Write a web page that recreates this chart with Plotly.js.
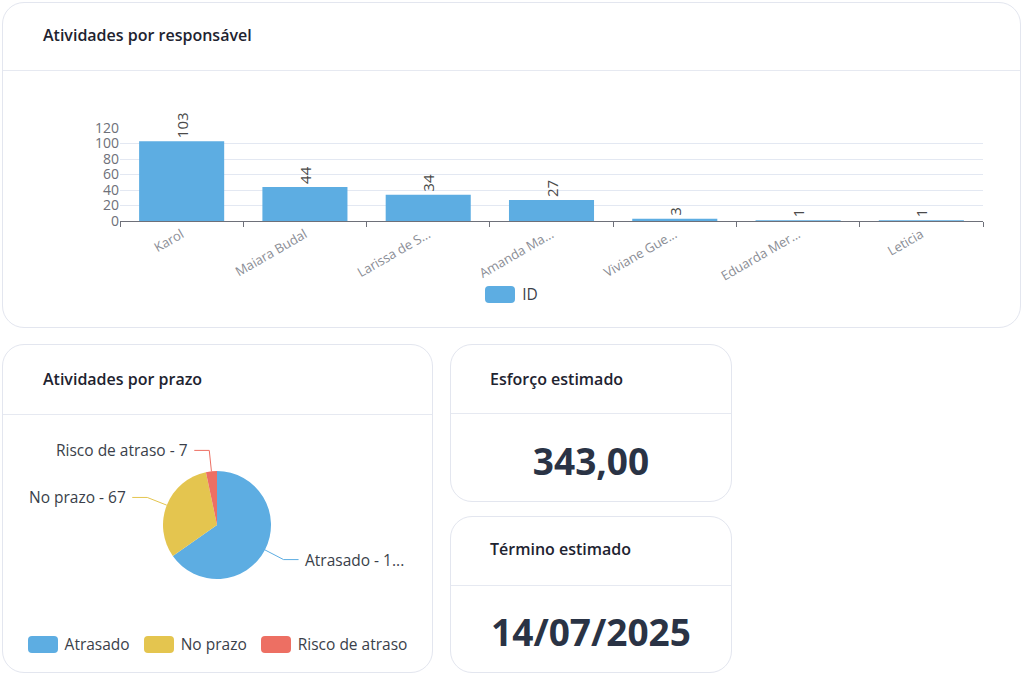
<!DOCTYPE html>
<html>
<head>
<meta charset="utf-8">
<script src="https://cdn.plot.ly/plotly-3.0.1.min.js"></script>
<style>
  html, body { margin:0; padding:0; background:#fff; width:1023px; height:675px; overflow:hidden;
    font-family:"Open Sans","Noto Sans",sans-serif; }
  .card { position:absolute; box-sizing:border-box; border:1px solid #e3e6ef; border-radius:22px; background:#fff; }
  .hdr { position:absolute; left:0; right:0; top:0; border-bottom:1px solid #e6e9f1; }
  .ttl { position:absolute; font-size:16px; font-weight:600; color:#1e2330; white-space:nowrap; }
  .big { position:absolute; left:0; right:0; text-align:center; font-size:37px; font-weight:700; color:#2a3345; }
  .plot { position:absolute; }
  .leg { position:absolute; display:flex; align-items:center; font-size:15.5px; color:#3a3f4a; }
  .leg .sw { width:30px; height:17px; border-radius:4px; margin-right:7px; }
  .leg .it { display:flex; align-items:center; margin-right:14px; }
  .leg .it:last-child { margin-right:0; }
</style>
</head>
<body>
<div class="card" style="left:2px;top:2px;width:1019px;height:326px;">
  <div class="hdr" style="height:67px;"></div>
  <div class="ttl" style="left:40px;top:21px;" id="t1"></div>
</div>
<div class="card" style="left:2px;top:344px;width:431px;height:329px;">
  <div class="hdr" style="height:69px;"></div>
  <div class="ttl" style="left:40px;top:23px;" id="t2"></div>
</div>
<div class="card" style="left:450px;top:344px;width:282px;height:158px;">
  <div class="hdr" style="height:68px;"></div>
  <div class="ttl" style="left:39px;top:23px;" id="t3"></div>
  <div class="big" style="top:90px;" id="v3"></div>
</div>
<div class="card" style="left:450px;top:516px;width:282px;height:157px;">
  <div class="hdr" style="height:68px;"></div>
  <div class="ttl" style="left:39px;top:21px;" id="t4"></div>
  <div class="big" style="top:89px;" id="v4"></div>
</div>

<div class="plot" id="bar" style="left:2px;top:71px;width:1019px;height:257px;"></div>
<div class="leg" id="barLeg" style="left:0;width:1023px;top:283px;justify-content:center;"></div>
<div class="plot" id="pie" style="left:2px;top:415px;width:431px;height:258px;"></div>
<div class="leg" id="pieLeg" style="left:2px;width:431px;top:633px;justify-content:center;"></div>

<script>
// ---- data ----
const cardTitles = ["Atividades por responsável", "Atividades por prazo", "Esforço estimado", "Término estimado"];
const esforcoValue = "343,00";
const terminoValue = "14/07/2025";

const responsaveis = ["Karol", "Maiara Budal", "Larissa de S...", "Amanda Ma...", "Viviane Gue...", "Eduarda Mer...", "Leticia"];
const atividades = [103, 44, 34, 27, 3, 1, 1];
const barSeriesName = "ID";

const prazoLabels = ["Atrasado", "No prazo", "Risco de atraso"];
const prazoValues = [139, 67, 7];

const colors = ["#5dade2", "#e4c54f", "#ed6f63"];

// ---- texts ----
document.getElementById('t1').textContent = cardTitles[0];
document.getElementById('t2').textContent = cardTitles[1];
document.getElementById('t3').textContent = cardTitles[2];
document.getElementById('t4').textContent = cardTitles[3];
document.getElementById('v3').textContent = esforcoValue;
document.getElementById('v4').textContent = terminoValue;

function legend(el, names, cols) {
  names.forEach((n, i) => {
    const it = document.createElement('div'); it.className = 'it';
    const sw = document.createElement('div'); sw.className = 'sw'; sw.style.background = cols[i];
    const tx = document.createElement('span'); tx.textContent = n;
    it.appendChild(sw); it.appendChild(tx); el.appendChild(it);
  });
}
legend(document.getElementById('barLeg'), [barSeriesName], [colors[0]]);
legend(document.getElementById('pieLeg'), prazoLabels, colors);

// ---- bar chart ----
const axisGray = "#6e7079";
Plotly.newPlot('bar', [{
  type: 'bar', x: responsaveis, y: atividades, name: barSeriesName,
  marker: { color: colors[0] }, width: 0.69,
  text: atividades.map(String), textposition: 'outside', textangle: -90,
  textfont: { size: 15, color: '#4a4a4a', family: 'Open Sans' }, cliponaxis: false,
  hoverinfo: 'x+y'
}], {
  width: 1019, height: 257,
  margin: { l: 118, r: 38, t: 57, b: 107 },
  paper_bgcolor: 'rgba(0,0,0,0)', plot_bgcolor: 'rgba(0,0,0,0)',
  showlegend: false,
  font: { family: 'Open Sans', color: axisGray },
  xaxis: {
    type: 'category', tickangle: -30, tickfont: { size: 13, color: '#8a8d95' },
    showline: true, linecolor: axisGray, linewidth: 1,
    ticks: 'outside', tickson: 'boundaries', ticklen: 5, tickcolor: axisGray,
    showgrid: false, fixedrange: true
  },
  yaxis: {
    range: [0, 120], dtick: 20, tickfont: { size: 14, color: axisGray },
    gridcolor: '#e3e8f2', zeroline: false, showline: false, ticks: '', fixedrange: true
  }
}, { displayModeBar: false, staticPlot: true });

// ---- pie chart ----
const W = 431, H = 258, cx = 215, cy = 110, R = 54;
const labelFont = 15.5;
const total = prazoValues.reduce((a, b) => a + b, 0);
const canvas = document.createElement('canvas');
const ctx = canvas.getContext('2d');
ctx.font = labelFont + 'px "Open Sans"';
function fit(txt, maxW) {
  if (ctx.measureText(txt).width <= maxW) return txt;
  let s = txt;
  while (s.length > 1 && ctx.measureText(s + '...').width > maxW) s = s.slice(0, -1);
  return s + '...';
}
const shapes = [], annotations = [];
const px = x => x / W, py = y => 1 - y / H;
let acc = 0;
prazoValues.forEach((v, i) => {
  const mid = (acc + v / 2) / total * 2 * Math.PI; acc += v;
  const dx = Math.sin(mid), dy = -Math.cos(mid);
  const p0 = [cx + dx * R, cy + dy * R];
  const p1 = [cx + dx * (R + 21), cy + dy * (R + 21)];
  const right = dx >= 0;
  const p2 = [p1[0] + (right ? 15 : -15), p1[1]];
  shapes.push({
    type: 'path', xref: 'paper', yref: 'paper',
    path: `M ${px(p0[0])} ${py(p0[1])} L ${px(p1[0])} ${py(p1[1])} L ${px(p2[0])} ${py(p2[1])}`,
    line: { color: colors[i], width: 1 }
  });
  const full = prazoLabels[i] + ' - ' + v;
  const tx = p2[0] + (right ? 4 : -4);
  const maxW = right ? (W - 26 - tx) : tx - 10;
  annotations.push({
    xref: 'paper', yref: 'paper', x: px(tx), y: py(p2[1]),
    xanchor: right ? 'left' : 'right', yanchor: 'middle', showarrow: false,
    text: fit(full, maxW), font: { size: labelFont, color: '#3a3f4a', family: 'Open Sans' }
  });
});

Plotly.newPlot('pie', [{
  type: 'pie', labels: prazoLabels, values: prazoValues,
  marker: { colors: colors, line: { width: 0 } },
  sort: false, direction: 'clockwise', rotation: 0,
  textinfo: 'none', hoverinfo: 'label+value',
  domain: { x: [(cx - R) / W, (cx + R) / W], y: [1 - (cy + R) / H, 1 - (cy - R) / H] }
}], {
  width: W, height: H, margin: { l: 0, r: 0, t: 0, b: 0 },
  paper_bgcolor: 'rgba(0,0,0,0)', showlegend: false,
  shapes: shapes, annotations: annotations
}, { displayModeBar: false, staticPlot: true });
</script>
</body>
</html>
